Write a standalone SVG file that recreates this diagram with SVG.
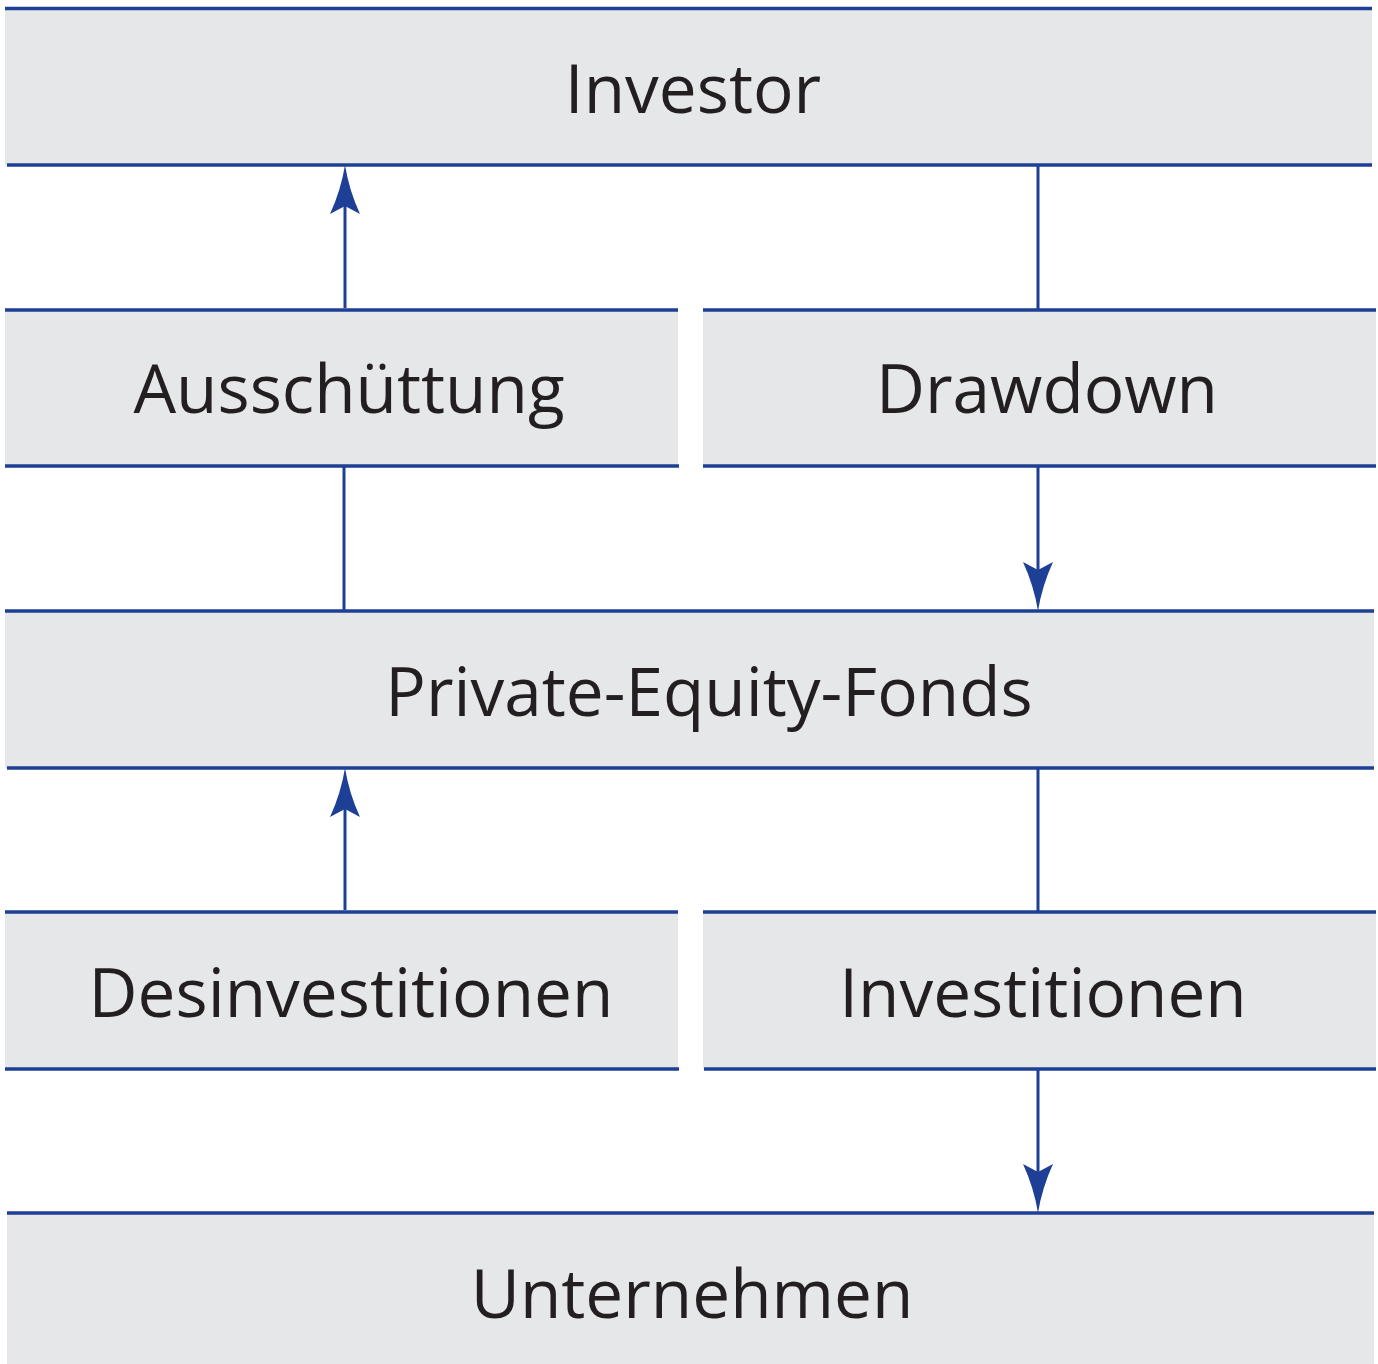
<svg xmlns="http://www.w3.org/2000/svg" xmlns:xlink="http://www.w3.org/1999/xlink" width="1378" height="1364" viewBox="0 0 1378 1364">
<style>
.box{fill:#e6e7e9}
.edge{stroke:#1d3f95;stroke-width:3.5;fill:none}
.conn{stroke:#1d3f95;stroke-width:3;fill:none}
.head{fill:#1d3f95}
.lbl{font-family:"Open Sans","Noto Sans",sans-serif;font-size:67.5px;fill:#231f20;text-anchor:middle}
</style>
<defs>
<path id="ah" class="head" d="M0,0 Q4,25 15,49 L0,41 L-15,49 Q-4,25 0,0 Z"/>
</defs>
<rect width="1378" height="1364" fill="#ffffff"/>
<g id="investor">
<rect class="box" x="5" y="8.5" width="1367" height="157"/>
<line class="edge" x1="5" y1="8.5" x2="1372" y2="8.5"/>
<line class="edge" x1="7" y1="165" x2="1372" y2="165"/>
<text class="lbl" x="693" y="113">Investor</text>
</g>
<g id="ausschuettung">
<rect class="box" x="5" y="310" width="673" height="156"/>
<line class="edge" x1="5" y1="310" x2="678" y2="310"/>
<line class="edge" x1="5" y1="466" x2="679" y2="466"/>
<text class="lbl" x="349" y="413">Ausschüttung</text>
</g>
<g id="drawdown">
<rect class="box" x="703" y="310" width="673" height="156"/>
<line class="edge" x1="703" y1="310" x2="1376" y2="310"/>
<line class="edge" x1="703" y1="466" x2="1376" y2="466"/>
<text class="lbl" x="1047" y="413">Drawdown</text>
</g>
<g id="fonds">
<rect class="box" x="5" y="611" width="1369" height="157"/>
<line class="edge" x1="5" y1="611" x2="1374" y2="611"/>
<line class="edge" x1="7" y1="768" x2="1374" y2="768"/>
<text class="lbl" x="709" y="716">Private-Equity-Fonds</text>
</g>
<g id="desinvestitionen">
<rect class="box" x="5" y="912" width="673" height="157"/>
<line class="edge" x1="5" y1="912" x2="678" y2="912"/>
<line class="edge" x1="5" y1="1069" x2="679" y2="1069"/>
<text class="lbl" x="351" y="1017">Desinvestitionen</text>
</g>
<g id="investitionen">
<rect class="box" x="703" y="912" width="673" height="157"/>
<line class="edge" x1="703" y1="912" x2="1376" y2="912"/>
<line class="edge" x1="704" y1="1069" x2="1376" y2="1069"/>
<text class="lbl" x="1043" y="1017">Investitionen</text>
</g>
<g id="unternehmen">
<rect class="box" x="7" y="1213" width="1367" height="151"/>
<line class="edge" x1="7" y1="1213" x2="1374" y2="1213"/>
<text class="lbl" x="692" y="1318">Unternehmen</text>
</g>
<g id="connectors">
<line class="conn" x1="345" y1="308" x2="345" y2="200"/>
<use xlink:href="#ah" transform="translate(345,165)"/>
<line class="conn" x1="1038" y1="165" x2="1038" y2="310"/>
<line class="conn" x1="1038" y1="466" x2="1038" y2="575"/>
<use xlink:href="#ah" transform="translate(1038,611) rotate(180)"/>
<line class="conn" x1="344" y1="466" x2="344" y2="611"/>
<line class="conn" x1="345" y1="910" x2="345" y2="803"/>
<use xlink:href="#ah" transform="translate(345,768)"/>
<line class="conn" x1="1038" y1="768" x2="1038" y2="912"/>
<line class="conn" x1="1038" y1="1069" x2="1038" y2="1177"/>
<use xlink:href="#ah" transform="translate(1038,1213) rotate(180)"/>
</g>
</svg>
